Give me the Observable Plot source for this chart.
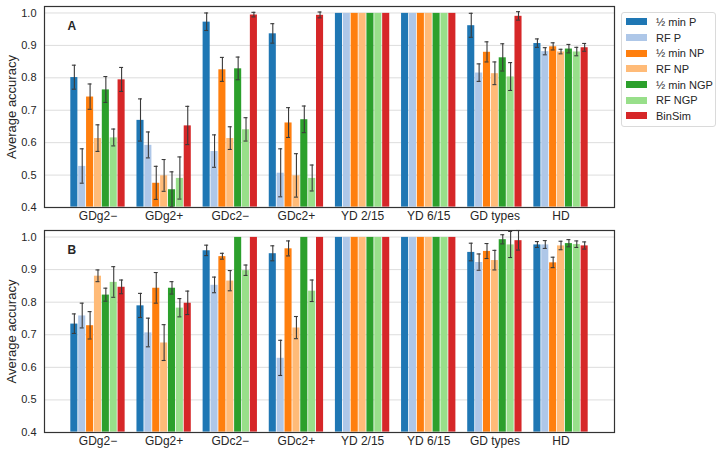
<!DOCTYPE html>
<html>
<head>
<meta charset="utf-8">
<script src="https://cdn.jsdelivr.net/npm/d3@7"></script>
<script src="https://cdn.jsdelivr.net/npm/@observablehq/plot@0.6"></script>
<style>
  body { margin: 0; background: #fff; }
  #wrap { position: relative; width: 724px; height: 455px; font-family: "Liberation Sans", Arial, sans-serif; color: #262626; }
  #wrap > div.panel { position: absolute; left: 0; }
  #legend { position: absolute; left: 621px; top: 12px; width: 95px; height: 115px; border: 1px solid #dadada; border-radius: 3px; box-sizing: border-box; padding-top: 1px; font-size: 11px; }
  #legend .row { display: flex; align-items: center; height: 15.7px; }
  #legend .sw { width: 21px; height: 7px; margin-left: 4px; margin-right: 9px; }
</style>
</head>
<body>
<div id="wrap">
  <div class="panel" id="pa" style="top:0px"></div>
  <div class="panel" id="pb" style="top:223px"></div>
  <div id="legend"></div>
</div>
<script>
const groups = ["GDg2−", "GDg2+", "GDc2−", "GDc2+", "YD 2/15", "YD 6/15", "GD types", "HD"];
const series = ["½ min P", "RF P", "½ min NP", "RF NP", "½ min NGP", "RF NGP", "BinSim"];
const colors = ["#1f77b4", "#aec7e8", "#ff7f0e", "#ffbb78", "#2ca02c", "#98df8a", "#d62728"];
const yTicks = [0.4, 0.5, 0.6, 0.7, 0.8, 0.9, 1.0];
const yMin = 0.4, yMax = 1.02;

// Panel A: one row per series, columns follow `groups`
const meanA = [
  [0.802, 0.670, 0.973, 0.937, 1, 1, 0.962, 0.907],
  [0.528, 0.593, 0.574, 0.507, 1, 1, 0.816, 0.882],
  [0.742, 0.476, 0.826, 0.662, 1, 1, 0.880, 0.897],
  [0.614, 0.499, 0.614, 0.499, 1, 1, 0.814, 0.881],
  [0.764, 0.456, 0.829, 0.672, 1, 1, 0.863, 0.890],
  [0.616, 0.491, 0.641, 0.491, 1, 1, 0.804, 0.881],
  [0.795, 0.653, 0.995, 0.994, 1, 1, 0.991, 0.894]
];
const errA = [
  [0.037, 0.065, 0.027, 0.030, 0, 0, 0.037, 0.013],
  [0.053, 0.040, 0.050, 0.074, 0, 0, 0.027, 0.011],
  [0.039, 0.051, 0.037, 0.046, 0, 0, 0.031, 0.011],
  [0.041, 0.049, 0.035, 0.067, 0, 0, 0.035, 0.007],
  [0.040, 0.054, 0.035, 0.041, 0, 0, 0.042, 0.013],
  [0.026, 0.065, 0.036, 0.040, 0, 0, 0.043, 0.013],
  [0.037, 0.059, 0.007, 0.009, 0, 0, 0.013, 0.012]
];
// Panel B
const meanB = [
  [0.734, 0.790, 0.959, 0.950, 1, 1, 0.954, 0.977],
  [0.759, 0.707, 0.853, 0.629, 1, 1, 0.923, 0.977],
  [0.729, 0.844, 0.941, 0.965, 1, 1, 0.957, 0.922],
  [0.881, 0.676, 0.866, 0.722, 1, 1, 0.929, 0.974],
  [0.823, 0.844, 1.000, 1.000, 1, 1, 0.993, 0.981],
  [0.862, 0.783, 0.898, 0.835, 1, 1, 0.977, 0.978],
  [0.847, 0.798, 1.000, 1.000, 1, 1, 0.990, 0.974]
];
const errB = [
  [0.030, 0.037, 0.016, 0.023, 0, 0, 0.027, 0.009],
  [0.038, 0.044, 0.024, 0.054, 0, 0, 0.025, 0.012],
  [0.042, 0.047, 0.009, 0.023, 0, 0, 0.023, 0.016],
  [0.018, 0.055, 0.031, 0.034, 0, 0, 0.030, 0.013],
  [0.020, 0.019, 0, 0, 0, 0, 0.014, 0.011],
  [0.047, 0.028, 0.016, 0.033, 0, 0, 0.040, 0.010],
  [0.021, 0.036, 0, 0, 0, 0, 0.030, 0.011]
];

// layout of grouped bars (in group units, like a categorical axis)
const groupWidth = 5 / 6;
const barW = groupWidth / series.length;
const capHalf = 0.03;
const span = groups.length - 1 + groupWidth;
const xDomain = [-groupWidth / 2 - 0.05 * span, groups.length - 1 + groupWidth / 2 + 0.05 * span];

function rows(mean, err) {
  const out = [];
  series.forEach((s, si) => groups.forEach((g, gi) => {
    const left = gi - groupWidth / 2 + si * barW;
    out.push({group: g, series: s, gi, si, left, right: left + barW, mid: left + barW / 2, value: mean[si][gi], err: err[si][gi]});
  }));
  return out;
}

function panel(letter, mean, err, height, marginTop) {
  const data = rows(mean, err);
  const eb = data.filter(d => d.err > 0);
  const errStroke = "#3a3a3a";
  return Plot.plot({
    width: 620,
    height,
    marginLeft: 44,
    marginRight: 6,
    marginTop,
    marginBottom: 20,
    style: {fontFamily: '"Liberation Sans", Arial, sans-serif', fontSize: "11px", color: "#262626", background: "transparent"},
    x: {domain: xDomain},
    y: {domain: [yMin, yMax]},
    color: {domain: series, range: colors},
    marks: [
      Plot.ruleY(yTicks, {stroke: "#dddddd", strokeWidth: 1}),
      Plot.rectY(data, {x1: "left", x2: "right", y1: () => yMin, y2: "value", fill: "series", inset: 0.4}),
      Plot.ruleX(eb, {x: "mid", y1: d => d.value - d.err, y2: d => d.value + d.err, stroke: errStroke, strokeWidth: 1.1}),
      Plot.ruleY(eb, {y: d => d.value - d.err, x1: d => d.mid - capHalf, x2: d => d.mid + capHalf, stroke: errStroke, strokeWidth: 1.1}),
      Plot.ruleY(eb, {y: d => d.value + d.err, x1: d => d.mid - capHalf, x2: d => d.mid + capHalf, stroke: errStroke, strokeWidth: 1.1}),
      Plot.frame({stroke: "#333333", strokeWidth: 1.2}),
      Plot.axisY({ticks: yTicks, tickFormat: d3.format(".1f"), tickSize: 0, tickPadding: 8, fontSize: 11, label: null}),
      Plot.axisY({ticks: [], tickSize: 0, fontSize: 13, label: "Average accuracy", labelAnchor: "center", labelArrow: "none", labelOffset: 38}),
      Plot.axisX({ticks: d3.range(groups.length), tickFormat: i => groups[i], tickSize: 0, tickPadding: 4, fontSize: 12, label: null}),
      Plot.text([letter], {frameAnchor: "top-left", dx: 23, dy: 15, fontWeight: "bold", fontSize: 12, fill: "#262626"})
    ]
  });
}

document.getElementById("pa").appendChild(panel("A", meanA, errA, 227, 6));
document.getElementById("pb").appendChild(panel("B", meanB, errB, 229, 7));

const legend = document.getElementById("legend");
series.forEach((s, i) => {
  const row = document.createElement("div");
  row.className = "row";
  const sw = document.createElement("span");
  sw.className = "sw";
  sw.style.background = colors[i];
  const t = document.createElement("span");
  t.textContent = s;
  row.appendChild(sw);
  row.appendChild(t);
  legend.appendChild(row);
});
</script>
</body>
</html>
